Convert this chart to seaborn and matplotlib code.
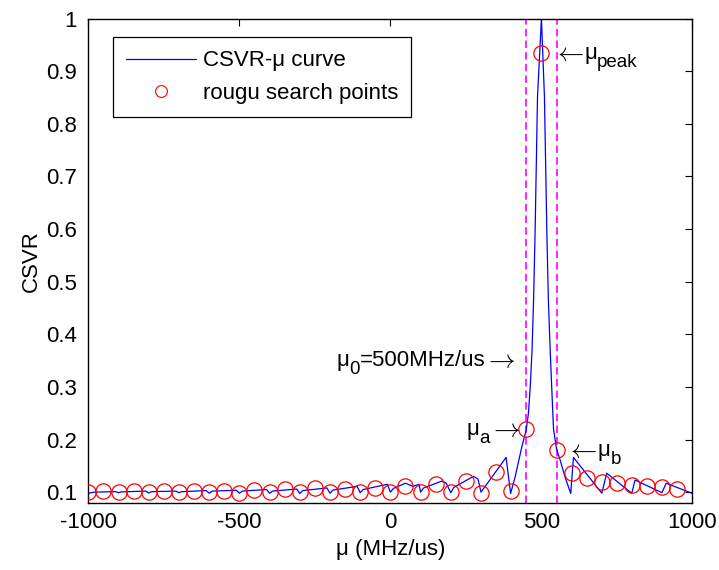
import matplotlib
matplotlib.use("Agg")
import matplotlib.pyplot as plt
import seaborn as sns
import pandas as pd

# ---- data ----
curve_mu = [-1000, -980, -910, -900, -890, -810, -800, -790, -710, -700, -690,
            -610, -600, -590, -510, -500, -490, -410, -400, -390, -310, -300,
            -290, -210, -200, -190, -110, -100, -90, -10, 0, 10, 50, 75, 95,
            100, 110, 170, 185, 200, 210, 250, 275, 290, 300, 383, 398, 413,
            435, 450, 457, 463, 469, 474, 479, 487, 500, 510, 518, 523, 529,
            534, 540, 550, 562, 578, 597, 606, 700, 716, 799, 810, 899, 913,
            998, 1000]
curve_csvr = [0.098, 0.100, 0.101, 0.099, 0.1005, 0.102, 0.0985, 0.101, 0.102,
              0.099, 0.101, 0.103, 0.098, 0.102, 0.1035, 0.098, 0.102, 0.105,
              0.098, 0.102, 0.106, 0.0975, 0.103, 0.108, 0.098, 0.104, 0.111,
              0.099, 0.105, 0.115, 0.100, 0.107, 0.117, 0.111, 0.115, 0.100,
              0.108, 0.121, 0.117, 0.099, 0.109, 0.122, 0.130, 0.125, 0.100,
              0.166, 0.0975, 0.129, 0.186, 0.219, 0.250, 0.300, 0.370, 0.465,
              0.592, 0.851, 1.000, 0.851, 0.592, 0.465, 0.370, 0.300, 0.220,
              0.182, 0.161, 0.129, 0.0975, 0.166, 0.098, 0.136, 0.098, 0.123,
              0.099, 0.117, 0.098, 0.100]

rough_mu = [-1000, -950, -900, -850, -800, -750, -700, -650, -600, -550,
            -500, -450, -400, -350, -300, -250, -200, -150, -100, -50,
            0, 50, 100, 150, 200, 250, 300, 350, 400, 450,
            500, 550, 600, 650, 700, 750, 800, 850, 900, 950]
rough_csvr = [0.0995, 0.103, 0.0995, 0.1025, 0.0995, 0.1025, 0.0995, 0.103, 0.0995, 0.103,
              0.099, 0.1035, 0.0995, 0.1055, 0.0995, 0.107, 0.0995, 0.106, 0.0995, 0.108,
              0.0995, 0.111, 0.1005, 0.115, 0.0995, 0.121, 0.098, 0.138, 0.103, 0.220,
              0.935, 0.181, 0.137, 0.127, 0.120, 0.117, 0.114, 0.111, 0.110, 0.106]

mu_a, mu_b = 450, 550
xticks = [-1000, -500, 0, 500, 1000]
yticks = [0.1, 0.2, 0.3, 0.4, 0.5, 0.6, 0.7, 0.8, 0.9, 1]
ytick_labels = ["0.1", "0.2", "0.3", "0.4", "0.5", "0.6", "0.7", "0.8", "0.9", "1"]

curve_df = pd.DataFrame({"mu": curve_mu, "csvr": curve_csvr})
rough_df = pd.DataFrame({"mu": rough_mu, "csvr": rough_csvr})

# ---- style ----
sns.set_theme(style="white")
plt.rcParams["font.family"] = ["Liberation Sans", "DejaVu Sans"]
plt.rcParams["mathtext.fontset"] = "cm"
for k in ("text.color", "axes.labelcolor", "xtick.color", "ytick.color", "axes.edgecolor"):
    plt.rcParams[k] = "black"
FS = 16
SUB = 13.5
AFS = 19

fig = plt.figure(figsize=(7.19, 5.70), dpi=100)
ax = fig.add_axes([0.1228, 0.1181, 0.8403, 0.8494])

for xv in (mu_a, mu_b):
    ax.axvline(xv, color="#ff00ff", lw=1.2, dashes=(4.5, 2.5), zorder=1)

sns.lineplot(data=curve_df, x="mu", y="csvr", ax=ax, color="#0000ff", lw=0.9,
             estimator=None, sort=False, label="CSVR-μ curve", zorder=2)
sns.lineplot(data=rough_df, x="mu", y="csvr", ax=ax, estimator=None, sort=False,
             linestyle="", marker="o", markersize=11, markerfacecolor="none",
             markeredgecolor="red", markeredgewidth=0.9, color="red",
             label="rougu search points", zorder=3)

ax.set_xlim(-1000, 1000)
ax.set_ylim(0.08, 1.0)
ax.set_xticks(xticks)
ax.set_xticklabels([str(v) for v in xticks])
ax.set_yticks(yticks)
ax.set_yticklabels(ytick_labels)
ax.tick_params(direction="in", length=5, width=0.8, top=True, right=True,
               labelsize=FS, colors="black")
ax.tick_params(axis="x", pad=7)
ax.tick_params(axis="y", pad=8)
for s in ax.spines.values():
    s.set_color("black")
    s.set_linewidth(1.0)

ax.set_xlabel("μ (MHz/us)", fontsize=FS, labelpad=4)
ax.set_ylabel("CSVR", fontsize=FS, labelpad=3)

leg = ax.legend(loc="upper left", bbox_to_anchor=(0.0404, 0.961), borderaxespad=0,
                fontsize=FS, frameon=True, fancybox=False, framealpha=1,
                edgecolor="black", handlelength=3.15, handletextpad=0.32,
                labelspacing=0.52, borderpad=0.58)
leg.get_frame().set_linewidth(0.9)
leg.legend_handles[1].set_markersize(8.5)
leg.legend_handles[1].set_markeredgewidth(0.8)

# ---- annotations built from text pieces (main text, subscript, arrows) ----
LARR = r"$\leftarrow$"
RARR = r"$\rightarrow$"
fig.canvas.draw()
renderer = fig.canvas.get_renderer()


def text_group(x, y_base, pieces, align="left"):
    arts, widths = [], []
    for s, fs, dy, kern in pieces:
        t = ax.annotate(s, xy=(x, y_base), xycoords="data", xytext=(0, dy),
                        textcoords="offset pixels", fontsize=fs, ha="left",
                        va="baseline", color="black")
        arts.append(t)
        widths.append(t.get_window_extent(renderer).width + kern)
    cur = 0 if align == "left" else -sum(widths)
    for t, w, (s, fs, dy, kern) in zip(arts, widths, pieces):
        t.xyann = (cur, dy)
        cur += w


text_group(538, 0.9236, [(LARR, AFS, -1, 0), ("μ", FS, 0, 0), ("peak", SUB, -8, 0)])
text_group(407, 0.3397, [("μ", FS, 0, 0), ("0", SUB, -8, 0), ("=500MHz/us", FS, 0, -2),
                         (RARR, AFS, -1, -2)], align="right")
text_group(425, 0.2086, [("μ", FS, 0, 0), ("a", SUB, -8, -1), (RARR, AFS, -1, -2)],
           align="right")
text_group(582, 0.1687, [(LARR, AFS, -1, 0), ("μ", FS, 0, 0), ("b", SUB, -8, 0)])

fig.savefig("out.png", dpi=100)
